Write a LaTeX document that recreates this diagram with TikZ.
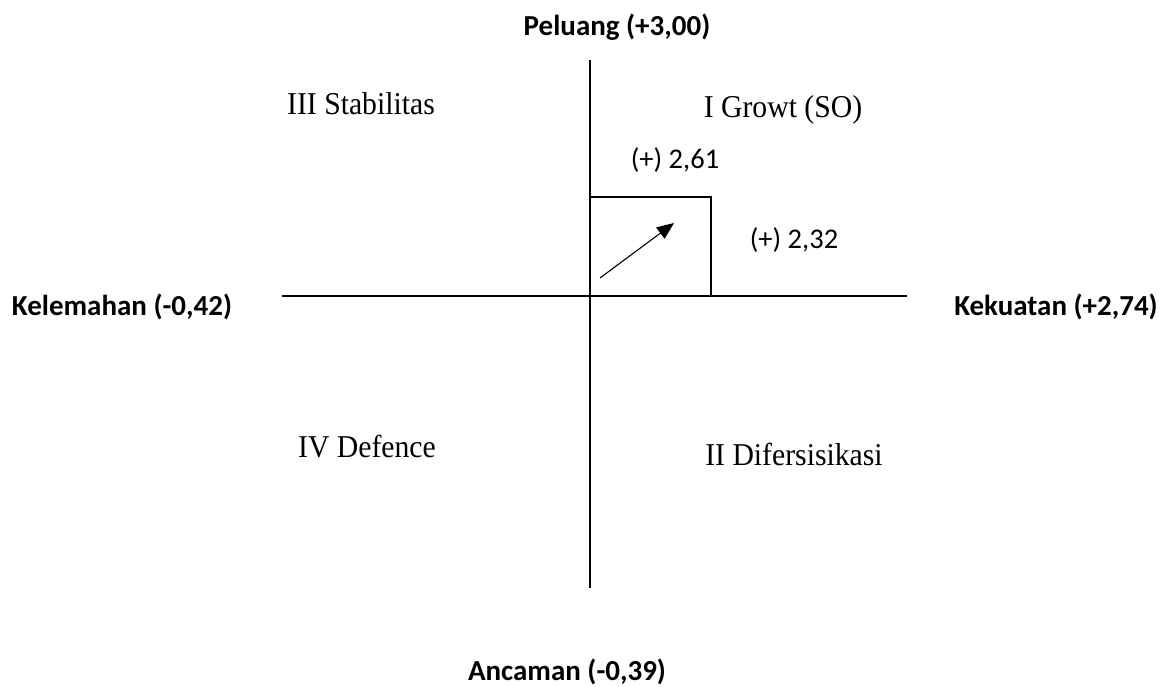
\documentclass[tikz,border=0pt]{standalone}
\usepackage{fontspec}
\setmainfont{Liberation Serif}
\newfontfamily\carlito{Carlito}
\usetikzlibrary{arrows.meta}
\begin{document}
\begin{tikzpicture}[x=1pt,y=-1pt,
  axis/.style={line width=1.1pt},
  axlabel/.style={font=\carlito\bfseries\fontsize{29}{34}\selectfont, inner sep=0pt},
  vallabel/.style={font=\carlito\fontsize{28.5}{34}\selectfont, inner sep=0pt},
  quad/.style={font=\fontsize{29.7}{35}\selectfont, inner sep=0pt, yscale=1.07}]
  \useasboundingbox (0,0) rectangle (1165,687);
  % axes
  \coordinate (top) at (590,60);
  \coordinate (bottom) at (590,588);
  \coordinate (left) at (282,296);
  \coordinate (right) at (907,296);
  \coordinate (origin) at (590,296);
  \draw[axis] (top) -- (bottom);
  \draw[axis] (left) -- (right);
  % strategy box
  \coordinate (boxtl) at (590,197);
  \coordinate (boxtr) at (711,197);
  \coordinate (boxbr) at (711,296);
  \draw[axis] (boxtl) -- (boxtr) -- (boxbr);
  % direction arrow
  \coordinate (arrowstart) at (600,278);
  \coordinate (arrowend) at (674,223);
  \draw[axis,-{Triangle[length=17pt,width=14pt]}] (arrowstart) -- (arrowend);
  % axis labels
  \node[axlabel] (peluang) at (617,27) {Peluang (+3,00)};
  \node[axlabel] (kelemahan) at (122,307) {Kelemahan (-0,42)};
  \node[axlabel] (kekuatan) at (1056,307) {Kekuatan (+2,74)};
  \node[axlabel] (ancaman) at (567,672) {Ancaman (-0,39)};
  % values
  \node[vallabel] (v261) at (675,160) {(+) 2,61};
  \node[vallabel] (v232) at (794,240) {(+) 2,32};
  % quadrants
  \node[quad] (q3) at (361,104) {III Stabilitas};
  \node[quad] (q1) at (783,110) {I Growt (SO)};
  \node[quad] (q4) at (367,447) {IV Defence};
  \node[quad] (q2) at (794,454) {II Difersisikasi};
\end{tikzpicture}
\end{document}
